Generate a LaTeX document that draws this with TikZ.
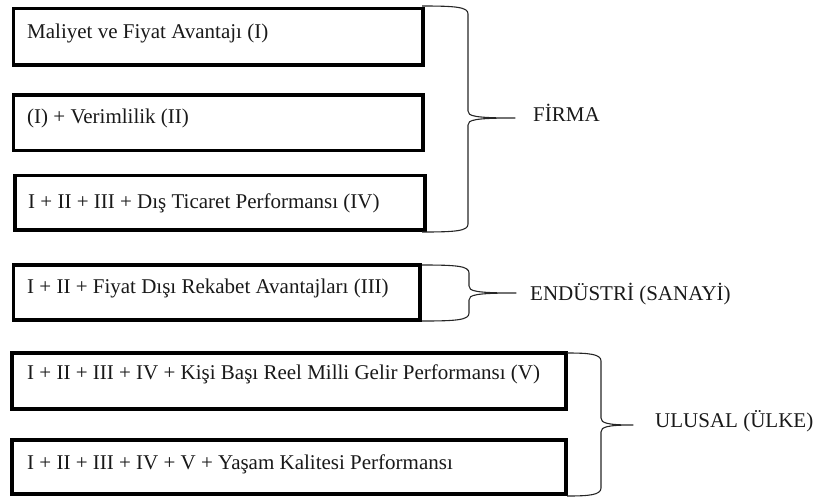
\documentclass[tikz,border=0pt]{standalone}
\usepackage{fontspec}
\setmainfont{Liberation Serif}
% curly bracket opening to the left: #1 open-end x, #2 spine x, #3 top y, #4 tip y, #5 bottom y, #6 tip x
\newcommand\sidebrace[6]{%
  \draw[brace] (#1,#3) .. controls ({#2-12},#3) and (#2,{#3+1}) .. (#2,{#3+8})
    -- (#2,{#4-7}) .. controls (#2,{#4-2}) and ({#2+6},#4) .. (#6,#4)
    .. controls ({#2+6},#4) and (#2,{#4+2}) .. (#2,{#4+7})
    -- (#2,{#5-8}) .. controls (#2,{#5-1}) and ({#2-12},#5) .. (#1,#5);}
\begin{document}
\begin{tikzpicture}[x=1pt,y=-1pt,
  box/.style={draw=black, line width=3.2pt, rectangle, inner sep=0pt, outer sep=0pt, anchor=north west},
  txt/.style={anchor=base west, inner sep=0pt, font=\fontsize{21}{25}\selectfont, text=black!90},
  brace/.style={draw=black!85, line width=1.1pt, line join=round}]
\useasboundingbox (0,0) rectangle (822,499);

% boxes
\node[box, minimum width=409.5pt, minimum height=56.5pt] (b1) at (13.5,8.5) {};
\node[box, minimum width=409.5pt, minimum height=55.5pt] (b2) at (13.5,95) {};
\node[box, minimum width=410pt, minimum height=54.5pt] (b3) at (15,175.5) {};
\node[box, minimum width=406.5pt, minimum height=55pt] (b4) at (13.5,265) {};
\node[box, minimum width=554pt, minimum height=56pt] (b5) at (12,353) {};
\node[box, minimum width=554pt, minimum height=54pt] (b6) at (12,440) {};

% box texts
\node[txt] (t1) at (27,38) {Maliyet ve Fiyat Avantajı (I)};
\node[txt] (t2) at (27,123) {(I) + Verimlilik (II)};
\node[txt] (t3) at (28,208) {I + II + III + Dış Ticaret Performansı (IV)};
\node[txt] (t4) at (27,293) {I + II + Fiyat Dışı Rekabet Avantajları (III)};
\node[txt] (t5) at (27,379) {I + II + III + IV + Kişi Başı Reel Milli Gelir Performansı (V)};
\node[txt] (t6) at (27,469) {I + II + III + IV + V + Yaşam Kalitesi Performansı};

% level labels
\node[txt] (firma) at (533,121) {FİRMA};
\node[txt] (endustri) at (530,300) {ENDÜSTRİ (SANAYİ)};
\node[txt] (ulusal) at (655,427) {ULUSAL (ÜLKE)};

% brackets
\sidebrace{422}{468}{6}{118}{232}{515}
\sidebrace{422}{469}{265}{293}{321}{516}
\sidebrace{567}{601}{353}{425}{496}{633}
\end{tikzpicture}
\end{document}
